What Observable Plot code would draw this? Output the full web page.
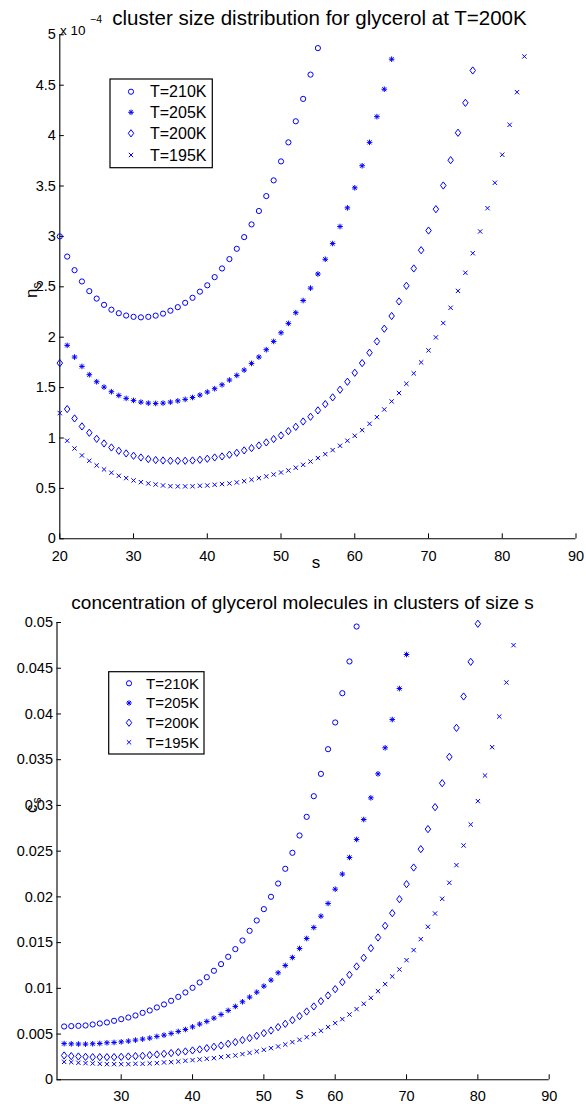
<!DOCTYPE html>
<html><head><meta charset="utf-8">
<script src="https://cdn.jsdelivr.net/npm/d3@7"></script>
<script src="https://cdn.jsdelivr.net/npm/@observablehq/plot@0.6"></script>
<style>
body{margin:0;background:#fff;}
#wrap{position:relative;width:586px;height:1104px;overflow:hidden;font-family:"Liberation Sans",Arial,Helvetica,sans-serif;}
#wrap > svg{position:absolute;left:0;}
</style></head><body><div id="wrap"></div>
<script>
// ---------- data ----------
const seriesNames = ["T=210K", "T=205K", "T=200K", "T=195K"];

// Top panel: n_s (in units of 1e-4), first s of each series
const nsStart = [20, 21, 20, 20];
const ns210 = [3.00,2.80,2.665,2.553,2.457,2.383,2.321,2.273,2.238,2.215,2.202,2.197,2.202,2.214,2.234,2.263,2.298,2.341,2.391,2.452,2.515,2.596,2.682,2.775,2.877,2.993,3.119,3.252,3.40,3.556,3.744,3.933,4.142,4.364,4.605,4.868];
const ns205 = [1.919,1.803,1.710,1.628,1.558,1.505,1.459,1.422,1.393,1.373,1.356,1.346,1.343,1.346,1.356,1.368,1.383,1.402,1.426,1.456,1.489,1.528,1.575,1.621,1.674,1.740,1.803,1.876,1.958,2.044,2.137,2.243,2.364,2.487,2.627,2.773,2.929,3.098,3.283,3.482,3.701,3.933,4.188,4.46,4.758];
const ns200 = [1.743,1.287,1.194,1.115,1.052,0.992,0.946,0.906,0.873,0.847,0.824,0.807,0.791,0.781,0.777,0.774,0.774,0.774,0.777,0.784,0.794,0.807,0.817,0.834,0.853,0.877,0.900,0.926,0.956,0.989,1.025,1.068,1.111,1.164,1.211,1.274,1.336,1.403,1.479,1.558,1.647,1.743,1.846,1.958,2.084,2.210,2.355,2.51,2.682,2.863,3.058,3.270,3.505,3.756,4.028,4.325,4.646];
const ns195 = [1.247,0.973,0.896,0.827,0.774,0.728,0.688,0.655,0.625,0.602,0.579,0.562,0.549,0.539,0.529,0.522,0.520,0.520,0.521,0.526,0.529,0.536,0.543,0.549,0.559,0.572,0.586,0.602,0.619,0.638,0.658,0.678,0.705,0.734,0.767,0.801,0.840,0.880,0.923,0.973,1.022,1.078,1.141,1.207,1.283,1.363,1.446,1.538,1.641,1.750,1.869,1.998,2.140,2.292,2.459,2.639,2.833,3.049,3.280,3.532,3.810,4.107,4.431,4.785];

// Bottom panel: c_s, first s of each series
const csStart = [22, 22, 22, 22];
const cs210 = [0.00583,0.00587,0.00590,0.00594,0.00605,0.00616,0.00627,0.00645,0.00663,0.00681,0.00703,0.00732,0.00758,0.00791,0.00824,0.00864,0.00907,0.00955,0.01006,0.01064,0.01122,0.01192,0.01265,0.01345,0.01429,0.01523,0.01629,0.01742,0.01866,0.02001,0.02146,0.02307,0.02482,0.02671,0.02875,0.03101,0.03345,0.03615,0.03907,0.04227,0.04574,0.04956];
const cs205 = [0.00396,0.00393,0.00391,0.00390,0.00394,0.00397,0.00405,0.00408,0.00415,0.00423,0.00434,0.00445,0.00456,0.00474,0.00488,0.00507,0.00528,0.00550,0.00579,0.00609,0.00638,0.00674,0.00714,0.00758,0.00802,0.00853,0.00904,0.00958,0.01024,0.01090,0.01170,0.01250,0.01337,0.01436,0.01545,0.01665,0.01789,0.01928,0.02084,0.02249,0.02431,0.02628,0.02846,0.03083,0.03345,0.03630,0.03939,0.04278,0.04650];
const cs200 = [0.00266,0.00259,0.00255,0.00251,0.00248,0.00248,0.00248,0.00248,0.00251,0.00255,0.00259,0.00262,0.00270,0.00277,0.00284,0.00292,0.00302,0.00310,0.00321,0.00332,0.00346,0.00361,0.00375,0.00394,0.00412,0.00434,0.00456,0.00481,0.00510,0.00539,0.00576,0.00612,0.00652,0.00696,0.00747,0.00802,0.00860,0.00922,0.00991,0.01068,0.01148,0.01239,0.01334,0.01439,0.01556,0.01684,0.01822,0.01975,0.02139,0.02321,0.02522,0.02741,0.02981,0.03243,0.03531,0.03848,0.04191,0.04570,0.04986];
const cs195 = [0.00196,0.00193,0.00186,0.00182,0.00179,0.00175,0.00171,0.00171,0.00171,0.00171,0.00175,0.00175,0.00179,0.00182,0.00190,0.00193,0.00200,0.00208,0.00215,0.00222,0.00230,0.00237,0.00248,0.00259,0.00266,0.00281,0.00295,0.00310,0.00328,0.00346,0.00364,0.00386,0.00412,0.00437,0.00466,0.00499,0.00536,0.00576,0.00620,0.00663,0.00714,0.00773,0.00831,0.00896,0.00969,0.01046,0.01130,0.01206,0.01308,0.01418,0.01538,0.01673,0.01818,0.01979,0.02154,0.02347,0.02562,0.02791,0.03047,0.03327,0.03637,0.03972,0.04344,0.04752];

// Ticks and labels
const topXTicks = [20,30,40,50,60,70,80,90];
const topXLabels = ["20","30","40","50","60","70","80","90"];
const topYTicks = [0,0.5,1,1.5,2,2.5,3,3.5,4,4.5,5];
const topYLabels = ["0","0.5","1","1.5","2","2.5","3","3.5","4","4.5","5"];
const botXTicks = [30,40,50,60,70,80,90];
const botXLabels = ["30","40","50","60","70","80","90"];
const botYTicks = [0,0.005,0.01,0.015,0.02,0.025,0.03,0.035,0.04,0.045,0.05];
const botYLabels = ["0","0.005","0.01","0.015","0.02","0.025","0.03","0.035","0.04","0.045","0.05"];

const topTitle = "cluster size distribution for glycerol at T=200K";
const botTitle = "concentration of glycerol molecules in clusters of size s";

// ---------- marker shapes (MATLAB-like) ----------
const matStar = {draw(c, size) {
  const r = Math.sqrt(size / Math.PI), a = r * 0.72;
  c.moveTo(-r, 0); c.lineTo(r, 0); c.moveTo(0, -r); c.lineTo(0, r);
  c.moveTo(-a, -a); c.lineTo(a, a); c.moveTo(-a, a); c.lineTo(a, -a);
}};
const matDiamond = {draw(c, size) {
  const r = Math.sqrt(size / Math.PI), h = r * 1.45, w = r * 1.1;
  c.moveTo(0, -h); c.lineTo(w, 0); c.lineTo(0, h); c.lineTo(-w, 0); c.closePath();
}};
const seriesSymbols = [d3.symbolCircle, matStar, matDiamond, d3.symbolTimes];
const seriesR = [2.6, 2.8, 2.5, 2.1];

// ---------- build tables ----------
function table(arrays, starts) {
  const rows = [];
  arrays.forEach((arr, k) => arr.forEach((v, i) => rows.push({s: starts[k] + i, v, T: seriesNames[k]})));
  return rows;
}
const topRows = table([ns210, ns205, ns200, ns195], nsStart);
const botRows = table([cs210, cs205, cs200, cs195], csStart);

const FONT = '"Liberation Sans", Arial, Helvetica, sans-serif';
const BLUE = "#0000ff";

function panel(rows, cfg) {
  const innerW = cfg.width - cfg.ml - cfg.mr;
  const innerH = cfg.height - cfg.mt - cfg.mb;
  const lab = (ticks, labels) => d => labels[ticks.indexOf(d)];
  return Plot.plot({
    width: cfg.width, height: cfg.height,
    marginLeft: cfg.ml, marginRight: cfg.mr, marginTop: cfg.mt, marginBottom: cfg.mb,
    x: {domain: cfg.xdom}, y: {domain: cfg.ydom},
    style: {fontFamily: FONT, fontSize: "14.5px", color: "black", background: "transparent", overflow: "visible"},
    marks: [
      Plot.tickY(cfg.yticks, {y: d => d, insetRight: innerW - 4.5, stroke: "black"}),
      Plot.tickX(cfg.xticks, {x: d => d, insetTop: innerH - 5, stroke: "black"}),
      Plot.ruleY([cfg.ydom[0]], {stroke: "black", strokeWidth: 1.1}),
      Plot.ruleX([cfg.xdom[0]], {stroke: "black", strokeWidth: 1.1}),
      Plot.axisX(cfg.xticks, {tickSize: 0, tickPadding: cfg.xpad, tickFormat: lab(cfg.xticks, cfg.xlabels), label: null, fill: "black"}),
      Plot.axisY(cfg.yticks, {tickSize: 0, tickPadding: 4, tickFormat: lab(cfg.yticks, cfg.ylabels), label: null, fill: "black"}),
      ...seriesNames.map((name, k) => Plot.dot(rows.filter(r => r.T === name), {
        x: "s", y: "v", symbol: seriesSymbols[k], r: seriesR[k],
        stroke: BLUE, fill: "none", strokeWidth: 1
      }))
    ]
  });
}

const wrap = document.getElementById("wrap");

const topSvg = panel(topRows, {width: 586, height: 575, ml: 59.3, mr: 10.5, mt: 34.3, mb: 36.7,
  xdom: [20, 90], ydom: [0, 5], xticks: topXTicks, xlabels: topXLabels, yticks: topYTicks, ylabels: topYLabels, xpad: 12});
topSvg.style.top = "0px";
wrap.appendChild(topSvg);

const botSvg = panel(botRows, {width: 586, height: 524, ml: 56.5, mr: 37.3, mt: 42, mb: 24.7,
  xdom: [21, 90], ydom: [0, 0.05], xticks: botXTicks, xlabels: botXLabels, yticks: botYTicks, ylabels: botYLabels, xpad: 11});
botSvg.style.top = "580px";
wrap.appendChild(botSvg);

// ---------- overlay: titles, axis labels, legends ----------
const ctx = document.createElement("canvas").getContext("2d");
function fitSize(text, target) {
  ctx.font = `100px ${FONT}`;
  return 100 * target / ctx.measureText(text).width;
}

const ov = d3.select(wrap).append("svg")
  .attr("width", 586).attr("height", 1104)
  .style("position", "absolute").style("top", "0px").style("left", "0px")
  .style("font-family", FONT);

ov.append("text").attr("x", 319.5).attr("y", 25).attr("text-anchor", "middle")
  .attr("font-size", fitSize(topTitle, 415)).text(topTitle);
ov.append("text").attr("x", 302.6).attr("y", 609).attr("text-anchor", "middle")
  .attr("font-size", fitSize(botTitle, 463)).text(botTitle);

// exponent label
ov.append("text").attr("x", 60).attr("y", 35).attr("font-size", 13.5).text("x 10");
ov.append("text").attr("x", 90).attr("y", 23).attr("font-size", 10.5).text("\u22124");

// x labels
ov.append("text").attr("x", 316).attr("y", 568).attr("text-anchor", "middle").attr("font-size", 17).text("s");
ov.append("text").attr("x", 299.4).attr("y", 1099).attr("text-anchor", "middle").attr("font-size", 16).text("s");

// y labels (rotated, with subscript)
function ylab(x, y, main) {
  ov.append("text").attr("transform", `translate(${x},${y}) rotate(-90)`)
    .attr("font-size", 17).text(main);
  ov.append("text").attr("transform", `translate(${x + 4},${y - 9.5}) rotate(-90)`)
    .attr("font-size", 12).text("s");
}
ylab(37, 298, "n");
ylab(37, 813, "c");

// legends
function legend(bx, by, bw, bh, mx, tx, rows, fs) {
  const g = ov.append("g");
  g.append("rect").attr("x", bx).attr("y", by).attr("width", bw).attr("height", bh)
    .attr("fill", "white").attr("stroke", "black").attr("stroke-width", 1.2);
  seriesNames.forEach((name, k) => {
    const r = seriesR[k];
    g.append("path").attr("d", d3.symbol(seriesSymbols[k], Math.PI * r * r)())
      .attr("transform", `translate(${mx},${rows[k]})`)
      .attr("fill", "none").attr("stroke", BLUE).attr("stroke-width", 1);
    g.append("text").attr("x", tx).attr("y", rows[k]).attr("dy", "0.36em")
      .attr("font-size", fs).text(name);
  });
}
legend(110, 79, 102.3, 88.7, 131, 150, [91.7, 112.3, 133.3, 155], 16);
legend(108.7, 671.7, 95.3, 82.3, 129, 146, [683.3, 703, 722.7, 742.3], 15);
</script>
</body></html>
